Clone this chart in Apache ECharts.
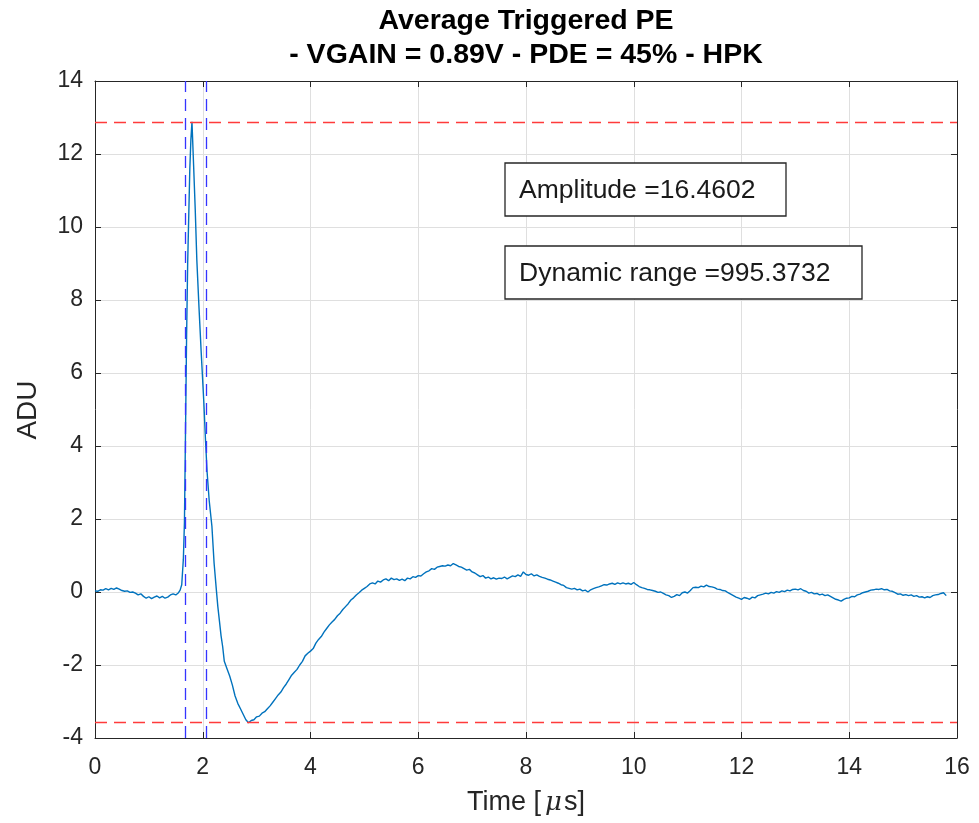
<!DOCTYPE html>
<html>
<head>
<meta charset="utf-8">
<script src="https://cdn.jsdelivr.net/npm/echarts@6/dist/echarts.min.js"></script>
<style>html,body{margin:0;padding:0;background:#fff}#c{width:979px;height:823px}</style>
</head>
<body>
<div id="c"></div>
<script>
// ---- data ----
const titleLines = ['Average Triggered PE', '- VGAIN = 0.89V - PDE = 45% - HPK'];
const annotations = ['Amplitude =16.4602', 'Dynamic range =995.3732'];
const xTicks = [0, 2, 4, 6, 8, 10, 12, 14, 16];
const yTicks = [-4, -2, 0, 2, 4, 6, 8, 10, 12, 14];
const xAxisLabel = 'Time [\u03bcs]';
const yAxisLabel = 'ADU';
const peakLevel = 12.88;      // red dashed top
const troughLevel = -3.58;    // red dashed bottom
const windowEdges = [1.67, 2.06]; // blue dashed verticals

const timeUs = [
  0.00,0.05,0.10,0.15,0.20,0.25,0.30,0.35,0.40,0.45,
  0.50,0.55,0.60,0.65,0.70,0.75,0.80,0.85,0.90,0.95,
  1.00,1.05,1.10,1.15,1.20,1.25,1.30,1.35,1.40,1.45,
  1.50,1.55,1.58,1.61,1.64,1.66,1.68,1.70,1.72,1.74,
  1.76,1.78,1.80,1.83,1.86,1.89,1.93,1.97,2.02,2.05,
  2.08,2.12,2.17,2.21,2.25,2.28,2.31,2.34,2.37,2.40,
  2.45,2.50,2.55,2.60,2.65,2.70,2.75,2.80,2.85,2.90,
  2.95,3.00,3.05,3.10,3.15,3.20,3.25,3.30,3.35,3.40,
  3.45,3.50,3.55,3.60,3.65,3.70,3.75,3.80,3.85,3.90,
  3.95,4.00,4.05,4.10,4.15,4.20,4.25,4.30,4.35,4.40,
  4.45,4.50,4.55,4.60,4.65,4.70,4.75,4.80,4.85,4.90,
  4.95,5.00,5.05,5.10,5.15,5.20,5.25,5.30,5.35,5.40,
  5.45,5.50,5.55,5.60,5.65,5.70,5.75,5.80,5.85,5.90,
  5.95,6.00,6.05,6.10,6.15,6.20,6.25,6.30,6.35,6.40,
  6.45,6.50,6.55,6.60,6.65,6.70,6.75,6.80,6.85,6.90,
  6.95,7.00,7.05,7.10,7.15,7.20,7.25,7.30,7.35,7.40,
  7.45,7.50,7.55,7.60,7.65,7.70,7.75,7.80,7.85,7.90,
  7.95,8.00,8.05,8.10,8.15,8.20,8.25,8.30,8.35,8.40,
  8.45,8.50,8.55,8.60,8.65,8.70,8.75,8.80,8.85,8.90,
  8.95,9.00,9.05,9.10,9.15,9.20,9.25,9.30,9.35,9.40,
  9.45,9.50,9.55,9.60,9.65,9.70,9.75,9.80,9.85,9.90,
  9.95,10.00,10.05,10.10,10.15,10.20,10.25,10.30,10.35,10.40,
  10.45,10.50,10.55,10.60,10.65,10.70,10.75,10.80,10.85,10.90,
  10.95,11.00,11.05,11.10,11.15,11.20,11.25,11.30,11.35,11.40,
  11.45,11.50,11.55,11.60,11.65,11.70,11.75,11.80,11.85,11.90,
  11.95,12.00,12.05,12.10,12.15,12.20,12.25,12.30,12.35,12.40,
  12.45,12.50,12.55,12.60,12.65,12.70,12.75,12.80,12.85,12.90,
  12.95,13.00,13.05,13.10,13.15,13.20,13.25,13.30,13.35,13.40,
  13.45,13.50,13.55,13.60,13.65,13.70,13.75,13.80,13.85,13.90,
  13.95,14.00,14.05,14.10,14.15,14.20,14.25,14.30,14.35,14.40,
  14.45,14.50,14.55,14.60,14.65,14.70,14.75,14.80,14.85,14.90,
  14.95,15.00,15.05,15.10,15.15,15.20,15.25,15.30,15.35,15.40,
  15.45,15.50,15.55,15.60,15.65,15.70,15.75,15.80
];
const aduValues = [
  0.03,0.02,0.06,0.05,0.09,0.06,0.10,0.07,0.11,0.08,
  0.04,0.02,0.03,-0.01,0.00,-0.03,-0.08,-0.05,-0.12,-0.17,
  -0.13,-0.18,-0.14,-0.11,-0.16,-0.12,-0.17,-0.14,-0.08,-0.05,
  -0.08,-0.02,0.05,0.20,0.90,1.90,4.40,7.00,9.00,10.30,
  11.60,12.40,12.88,11.70,10.50,9.10,7.80,6.60,5.20,4.20,
  3.30,2.50,1.80,0.80,0.10,-0.40,-0.80,-1.20,-1.50,-1.90,
  -2.10,-2.30,-2.55,-2.85,-3.05,-3.20,-3.35,-3.50,-3.58,-3.52,
  -3.50,-3.42,-3.40,-3.32,-3.28,-3.20,-3.12,-3.02,-2.92,-2.82,
  -2.74,-2.62,-2.52,-2.40,-2.28,-2.20,-2.12,-2.00,-1.90,-1.75,
  -1.68,-1.62,-1.55,-1.40,-1.30,-1.22,-1.10,-1.00,-0.90,-0.82,
  -0.75,-0.65,-0.58,-0.48,-0.40,-0.32,-0.22,-0.16,-0.08,-0.02,
  0.05,0.10,0.15,0.22,0.25,0.22,0.30,0.27,0.33,0.36,
  0.31,0.38,0.34,0.36,0.32,0.35,0.31,0.38,0.36,0.42,
  0.40,0.45,0.44,0.50,0.55,0.58,0.64,0.62,0.68,0.70,
  0.72,0.71,0.74,0.72,0.78,0.74,0.70,0.68,0.64,0.60,
  0.62,0.55,0.52,0.47,0.42,0.45,0.38,0.41,0.36,0.39,
  0.35,0.38,0.37,0.41,0.36,0.40,0.44,0.42,0.47,0.43,
  0.55,0.48,0.46,0.50,0.44,0.47,0.43,0.40,0.38,0.35,
  0.33,0.30,0.27,0.24,0.20,0.18,0.12,0.10,0.08,0.10,
  0.06,0.08,0.03,0.05,0.00,0.06,0.09,0.12,0.14,0.17,
  0.20,0.19,0.22,0.24,0.21,0.25,0.22,0.25,0.22,0.24,
  0.21,0.26,0.20,0.15,0.12,0.10,0.07,0.06,0.04,0.02,
  -0.01,0.00,-0.04,-0.08,-0.10,-0.15,-0.12,-0.07,-0.10,-0.02,
  0.00,-0.03,0.04,0.12,0.13,0.12,0.16,0.14,0.19,0.15,
  0.14,0.12,0.08,0.07,0.04,0.03,-0.02,-0.06,-0.10,-0.14,
  -0.17,-0.20,-0.15,-0.17,-0.20,-0.14,-0.16,-0.10,-0.08,-0.06,
  -0.03,-0.05,-0.01,-0.03,0.01,-0.01,0.03,0.01,0.05,0.03,
  0.07,0.08,0.06,0.09,0.04,0.02,-0.03,-0.01,-0.05,-0.04,
  -0.08,-0.06,-0.10,-0.08,-0.12,-0.16,-0.20,-0.22,-0.25,-0.20,
  -0.17,-0.16,-0.12,-0.13,-0.08,-0.06,-0.02,0.00,0.02,0.05,
  0.06,0.08,0.07,0.09,0.06,0.07,0.03,0.02,-0.02,-0.06,
  -0.05,-0.09,-0.07,-0.10,-0.08,-0.12,-0.10,-0.14,-0.13,-0.16,
  -0.13,-0.15,-0.10,-0.08,-0.07,-0.04,-0.02,-0.10
];

// ---- chart ----
const FONT = '"Liberation Sans", Arial, Helvetica, sans-serif';
const AX = '#262626';
const GRID = { left: 95, right: 22, top: 81, bottom: 85 };
const chart = echarts.init(document.getElementById('c'), null, { renderer: 'canvas' });
const seriesData = timeUs.map((t, i) => [t, aduValues[i]]);

const xMin = xTicks[0], xMax = xTicks[xTicks.length - 1];
const yMin = yTicks[0], yMax = yTicks[yTicks.length - 1];

const boxAxisCommon = {
  axisLine: { show: true, onZero: false, lineStyle: { color: AX, width: 1 } },
  axisTick: { show: true, inside: true, length: 6, lineStyle: { color: AX } },
  axisLabel: { show: false },
  splitLine: { show: false }
};

const plotCenterX = GRID.left + (979 - GRID.left - GRID.right) / 2;
const plotCenterY = GRID.top + (823 - GRID.top - GRID.bottom) / 2;

const boxes = [
  { x: 505, y: 163, w: 281, h: 53 },
  { x: 505, y: 246, w: 357, h: 53 }
];

const xLabelParts = xAxisLabel.split('\u03bc');

chart.setOption({
  animation: false,
  backgroundColor: '#ffffff',
  grid: GRID,
  xAxis: [
    {
      type: 'value', min: xMin, max: xMax, interval: 2,
      axisLine: { show: true, onZero: false, lineStyle: { color: AX, width: 1 } },
      axisTick: { show: true, inside: true, length: 6, lineStyle: { color: AX } },
      axisLabel: { fontFamily: FONT, fontSize: 23, color: AX, margin: 18 },
      splitLine: { show: true, lineStyle: { color: '#dfdfdf', width: 1 } }
    },
    Object.assign({ type: 'value', min: xMin, max: xMax, interval: 2, position: 'top' }, boxAxisCommon)
  ],
  yAxis: [
    {
      type: 'value', min: yMin, max: yMax, interval: 2,
      axisLine: { show: true, onZero: false, lineStyle: { color: AX, width: 1 } },
      axisTick: { show: true, inside: true, length: 6, lineStyle: { color: AX } },
      axisLabel: { fontFamily: FONT, fontSize: 23, color: AX, margin: 12, padding: [6, 0, 0, 0] },
      splitLine: { show: true, lineStyle: { color: '#dfdfdf', width: 1 } }
    },
    Object.assign({ type: 'value', min: yMin, max: yMax, interval: 2, position: 'right' }, boxAxisCommon)
  ],
  series: [
    {
      type: 'line',
      data: seriesData,
      showSymbol: false,
      symbol: 'none',
      lineStyle: { color: '#0072BD', width: 1.4 },
      z: 3,
      markLine: {
        silent: true,
        symbol: 'none',
        label: { show: false },
        animation: false,
        data: [
          { yAxis: peakLevel, lineStyle: { color: '#ff3b3b', type: [12, 7], width: 1.3 } },
          { yAxis: troughLevel, lineStyle: { color: '#ff3b3b', type: [12, 7], width: 1.3 } },
          { xAxis: windowEdges[0], lineStyle: { color: '#3434ff', type: [12, 7], width: 1.3 } },
          { xAxis: windowEdges[1], lineStyle: { color: '#3434ff', type: [12, 7], width: 1.3 } }
        ]
      }
    }
  ],
  graphic: [
    {
      type: 'text', x: plotCenterX, y: 21,
      style: { text: titleLines[0], font: 'bold 28.5px ' + FONT, fill: '#000', align: 'center', verticalAlign: 'middle' }
    },
    {
      type: 'text', x: plotCenterX, y: 55,
      style: { text: titleLines[1], font: 'bold 28.5px ' + FONT, fill: '#000', align: 'center', verticalAlign: 'middle' }
    },
    {
      type: 'text', x: plotCenterX, y: 803,
      style: {
        text: xLabelParts[0] + '{mu|\u03bc}' + xLabelParts[1],
        font: '27px ' + FONT, fill: AX, align: 'center', verticalAlign: 'middle',
        rich: { mu: { fontFamily: '"DejaVu Serif", serif', fontStyle: 'italic', fontSize: 26, fill: AX, padding: [0, 2, 0, 4] } }
      }
    },
    {
      type: 'text', x: 28, y: 410, rotation: Math.PI / 2,
      style: { text: yAxisLabel, font: '28px ' + FONT, fill: AX, align: 'center', verticalAlign: 'middle' }
    },
    ...boxes.map((b, i) => ({
      type: 'group',
      children: [
        { type: 'rect', shape: { x: b.x, y: b.y, width: b.w, height: b.h },
          style: { fill: '#fff', stroke: '#262626', lineWidth: 1.3 }, z: 10 },
        { type: 'text', x: b.x + 14, y: b.y + b.h / 2 + 1,
          style: { text: annotations[i], font: '26.5px ' + FONT, fill: '#1a1a1a', verticalAlign: 'middle', align: 'left' }, z: 11 }
      ]
    }))
  ]
});
</script>
</body>
</html>
